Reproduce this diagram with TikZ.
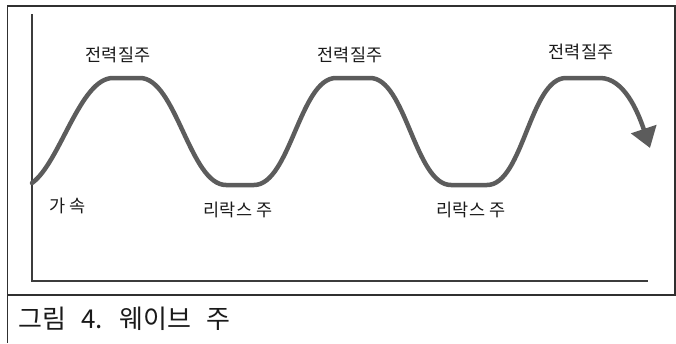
\documentclass[tikz,border=0pt]{standalone}
\usepackage{fontspec}
\setmainfont{Noto Sans CJK KR}
\usetikzlibrary{arrows.meta,positioning}
\definecolor{framedark}{HTML}{303030}
\definecolor{axisgray}{HTML}{3C3C3C}
\definecolor{wavegray}{HTML}{5C5C5C}
\definecolor{labelink}{HTML}{1A1A1A}
\newcommand\captfont{\fontsize{26}{29}\selectfont\spaceskip=15pt\relax}
\tikzset{
  frameline/.style={draw=framedark, line width=1.3pt},
  axisline/.style={draw=axisgray, line width=2pt},
  wave/.style={draw=wavegray, line width=4.5pt, line cap=round,
    -{Triangle[length=20pt,width=26pt]}},
  phase/.style={font=\fontsize{17.5}{20}\selectfont, text=labelink, inner sep=0pt},
  capt/.style={font=\captfont, text=labelink, inner sep=0pt, anchor=west},
}

\begin{document}
\begin{tikzpicture}[x=1pt,y=-1pt]
  \useasboundingbox (0,0) rectangle (676,343);
  % frame
  \draw[frameline] (7.5,6) rectangle (675,295);
  \draw[frameline] (7.5,295) -- (7.5,343);
  % axes
  \coordinate (ytop) at (32,14);
  \coordinate (origin) at (32,281);
  \coordinate (xend) at (648,281);
  \draw[axisline] (ytop) -- (origin) -- (xend);
  % wave
  \draw[wave] (32,183) .. controls (60,163) and (80,78) .. (113,78) -- (140,78)
    .. controls (176,78) and (190,185) .. (226,185) -- (254,185)
    .. controls (290,185) and (300,78) .. (336,78) -- (370,78)
    .. controls (406,78) and (415,185) .. (451,185) -- (487,185)
    .. controls (523,185) and (530,78) .. (566,78) -- (600,78)
    .. controls (624,78) and (638,112) .. (650,148);
  % labels
  \node[phase] (peakA) at (118,55) {전력질주};
  \node[phase] (peakB) at (350,55) {전력질주};
  \node[phase] (peakC) at (581,52) {전력질주};
  \node[phase] (accel) at (68,206) {가 속};
  \node[phase] (relaxA) at (238,210) {리락스 주};
  \node[phase] (relaxB) at (471,210) {리락스 주};
  % caption
  \node[capt] (caption) at (18,319) {그림 4. 웨이브 주};
\end{tikzpicture}
\end{document}
